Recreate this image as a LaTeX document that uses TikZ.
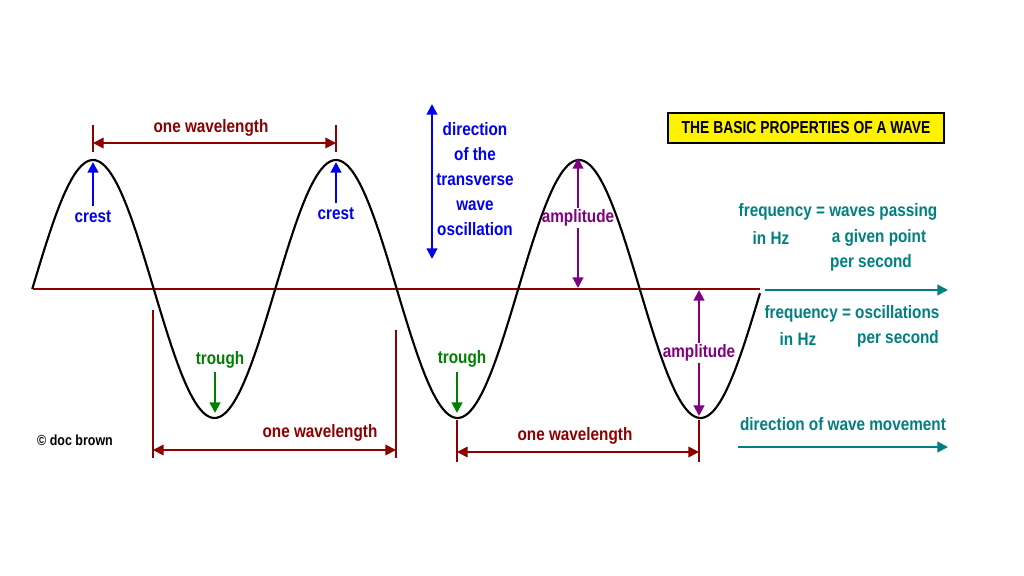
\documentclass[tikz,border=0pt]{standalone}
\usepackage{fontspec}
\setmainfont{Liberation Sans}
\usetikzlibrary{arrows.meta}
\definecolor{dred}{RGB}{140,0,0}
\definecolor{dblue}{RGB}{0,0,240}
\definecolor{dgreen}{RGB}{0,128,0}
\definecolor{dpurple}{RGB}{128,0,128}
\definecolor{dteal}{RGB}{0,128,128}
\begin{document}
\begin{tikzpicture}[x=0.75pt,y=-0.75pt,
  lab/.style={font=\fontsize{13.5}{16}\selectfont\bfseries, inner sep=1pt, xscale=0.85},
  arr/.style={line width=1.6pt,-{Triangle[length=8pt,width=8pt]}},
  darr/.style={line width=1.6pt,{Triangle[length=8pt,width=8pt]}-{Triangle[length=8pt,width=8pt]}},
  tick/.style={dred,line width=0.8pt}]
\useasboundingbox (0,0) rectangle (1024,575);
\fill[white] (0,0) rectangle (1024,575);
% axis and wave
\coordinate (a0) at (33,289); \coordinate (a1) at (760,289);
\draw[dred,line width=1pt] (a0) -- (a1);
\draw[black,line width=1.6pt] plot[domain=32.25:760,samples=300,smooth] (\x,{289-129*sin((\x-32.25)/243*360)});
% wavelengths
\coordinate (w1a) at (93,143); \coordinate (w1b) at (336,143);
\draw[tick] (93,125) -- (93,152); \draw[tick] (336,125) -- (336,152);
\draw[darr,dred,line width=1.3pt] (w1a) -- (w1b);
\node[lab,text=dred] (l1) at (211,128) {one wavelength};
\coordinate (w2a) at (153,450); \coordinate (w2b) at (396,450);
\draw[tick] (153,310) -- (153,458); \draw[tick] (396,330) -- (396,458);
\draw[darr,dred,line width=1.3pt] (w2a) -- (w2b);
\node[lab,text=dred] (l2) at (320,433) {one wavelength};
\coordinate (w3a) at (457,452); \coordinate (w3b) at (699,452);
\draw[tick] (457,420) -- (457,462); \draw[tick] (699,420) -- (699,462);
\draw[darr,dred,line width=1.3pt] (w3a) -- (w3b);
\node[lab,text=dred] (l3) at (575,436) {one wavelength};
% crests
\node[lab,text=dblue] (c1) at (93,217) {crest};
\coordinate (c1t) at (93,162);
\draw[arr,dblue] (c1.north) ++(0,-3) -- (c1t);
\node[lab,text=dblue] (c2) at (336,214) {crest};
\coordinate (c2t) at (336,162);
\draw[arr,dblue] (c2.north) ++(0,-3) -- (c2t);
% transverse
\coordinate (t1) at (432,104); \coordinate (t2) at (432,259);
\draw[darr,dblue] (t1) -- (t2);
\node[lab,text=dblue,align=center,font=\fontsize{13.5}{18.8}\selectfont\bfseries] (tr) at (475,179) {direction\\of the\\transverse\\wave\\oscillation};
% amplitude
\node[lab,text=dpurple] (am1) at (578,218) {amplitude};
\coordinate (p1) at (578,158); \coordinate (p2) at (578,288);
\draw[arr,dpurple] (am1.north) -- (p1);
\draw[arr,dpurple] (am1.south) -- (p2);
\node[lab,text=dpurple] (am2) at (699,353) {amplitude};
\coordinate (p3) at (699,290); \coordinate (p4) at (699,416);
\draw[arr,dpurple] (am2.north) -- (p3);
\draw[arr,dpurple] (am2.south) -- (p4);
% troughs
\node[lab,text=dgreen] (tr1) at (220,360) {trough};
\coordinate (tr1t) at (215,413);
\draw[arr,dgreen] (215,372) -- (tr1t);
\node[lab,text=dgreen] (tr2) at (462,359) {trough};
\coordinate (tr2t) at (457,413);
\draw[arr,dgreen] (457,372) -- (tr2t);
% title
\draw[black,fill=yellow,line width=0.8pt] (668,113) rectangle (944,143);
\node[lab,xscale=0.8/0.85,font=\fontsize{13}{16}\selectfont\bfseries] (title) at (806,128) {THE BASIC PROPERTIES OF A WAVE};
% frequency
\node[lab,text=dteal] (f1) at (838,212) {frequency = waves passing};
\node[lab,text=dteal] (f2) at (771,238) {in Hz};
\node[lab,text=dteal] (f3) at (879,238) {a given point};
\node[lab,text=dteal] (f4) at (871,263) {per second};
\coordinate (fa1) at (765,290); \coordinate (fa2) at (948,290);
\draw[arr,dteal] (fa1) -- (fa2);
\node[lab,text=dteal] (g1) at (852,314) {frequency = oscillations};
\node[lab,text=dteal] (g2) at (798,339) {in Hz};
\node[lab,text=dteal] (g3) at (898,339) {per second};
\node[lab,text=dteal] (d1) at (843,424) {direction of wave movement};
\coordinate (da1) at (738,447); \coordinate (da2) at (948,447);
\draw[arr,dteal] (da1) -- (da2);
% credit
\node[lab,font=\fontsize{11}{13}\selectfont\bfseries] (cr) at (75,440) {© doc brown};
\end{tikzpicture}
\end{document}
